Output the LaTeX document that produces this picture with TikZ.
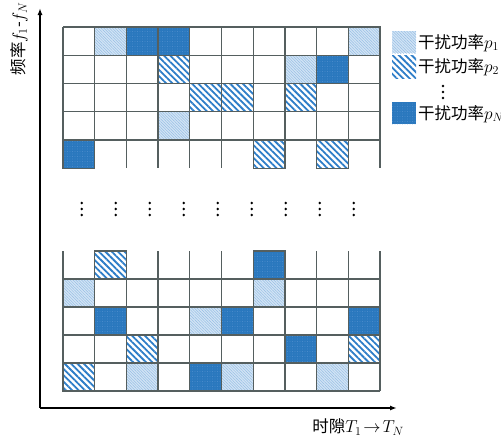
\documentclass[tikz,border=0pt]{standalone}
\usepackage{fontspec}
\newfontfamily\cjk{Noto Sans CJK SC}
\usetikzlibrary{patterns.meta,arrows.meta}
\definecolor{gridc}{RGB}{85,95,95}
\definecolor{darkb}{RGB}{42,120,190}
\definecolor{darkdot}{RGB}{90,150,210}
\definecolor{lightb}{RGB}{210,228,245}
\definecolor{lightl}{RGB}{150,190,228}
\definecolor{stripeb}{RGB}{45,125,200}
\newcommand\bigtxt{\fontsize{16.5pt}{19pt}\selectfont}
\tikzset{
  gridline/.style={draw=gridc, line width=1.3pt},
  pone/.style={fill=lightb, postaction={pattern={Lines[angle=-45,distance=2pt,line width=0.5pt]}, pattern color=lightl}},
  ptwo/.style={fill=white, postaction={pattern={Lines[angle=-45,distance=4.5pt,line width=1.8pt]}, pattern color=stripeb}},
  pn/.style={fill=darkb, postaction={pattern={Dots[distance=2.5pt,radius=0.4pt]}, pattern color=darkdot}},
  cellb/.style={draw=gridc, line width=1.3pt},
  axisline/.style={line width=1.4pt, -{Latex[length=7pt,width=5pt]}},
  lbl/.style={inner sep=0pt},
  vdot/.style={fill=black},
}
\newcommand\topcell[3]{%
  \path[#3] ({63+(#1-1)*31.7},{27+(#2-1)*28.25}) rectangle ++(31.7,28.25);
  \draw[cellb] ({63+(#1-1)*31.7},{27+(#2-1)*28.25}) rectangle ++(31.7,28.25);}
\newcommand\botcell[3]{%
  \path[#3] ({63+(#1-1)*31.7},{251+#2*28}) rectangle ++(31.7,28);
  \draw[cellb] ({63+(#1-1)*31.7},{251+#2*28}) rectangle ++(31.7,28);}
\begin{document}
\begin{tikzpicture}[x=1pt,y=-1pt]
\useasboundingbox (0,0) rectangle (501,439);
% top grid lines
\foreach \k in {0,...,4} \draw[gridline] (63,{27+\k*28.25}) -- (380,{27+\k*28.25});
\foreach \i in {0,...,10} \draw[gridline] ({63+\i*31.7},27) -- ({63+\i*31.7},168.25);
% bottom grid lines
\foreach \k in {1,...,5} \draw[gridline] (63,{251+\k*28}) -- (380,{251+\k*28});
\foreach \i in {0,...,10} \draw[gridline] ({63+\i*31.7},251) -- ({63+\i*31.7},391);
% top grid cells
\topcell{2}{1}{pone}\topcell{3}{1}{pn}\topcell{4}{1}{pn}\topcell{10}{1}{pone}
\topcell{4}{2}{ptwo}\topcell{8}{2}{pone}\topcell{9}{2}{pn}
\topcell{5}{3}{ptwo}\topcell{6}{3}{ptwo}\topcell{8}{3}{ptwo}
\topcell{4}{4}{pone}
\topcell{1}{5}{pn}\topcell{7}{5}{ptwo}\topcell{9}{5}{ptwo}
% bottom grid cells
\botcell{2}{0}{ptwo}\botcell{7}{0}{pn}
\botcell{1}{1}{pone}\botcell{7}{1}{pone}
\botcell{2}{2}{pn}\botcell{5}{2}{pone}\botcell{6}{2}{pn}\botcell{10}{2}{pn}
\botcell{3}{3}{ptwo}\botcell{8}{3}{pn}\botcell{10}{3}{ptwo}
\botcell{1}{4}{ptwo}\botcell{3}{4}{pone}\botcell{5}{4}{pn}\botcell{6}{4}{pone}\botcell{9}{4}{pone}
% vertical ellipses between grids
\foreach \j in {0,...,8} {
  \foreach \yy in {203,209,215} \fill[vdot] ({81.7+\j*34},\yy) circle (1.4pt);
}
% axes
\coordinate (O) at (40,408);
\coordinate (ytip) at (40,8);
\coordinate (xtip) at (397,408);
\draw[axisline] (O) -- (ytip);
\draw[axisline] (O) -- (xtip);
\node[lbl, rotate=90] (ylab) at (19,39) {\bigtxt\cjk 频率$f_1$-$f_N$};
\node[lbl] (xlab) at (358,427) {\bigtxt\cjk 时隙$T_1\!\rightarrow\!T_N$};
% legend
\path[pone] (392,31) rectangle (416,53);
\path[ptwo] (392,55) rectangle (416,78);
\path[pn] (392,102) rectangle (416,124);
\node[lbl, anchor=west] (l1) at (418,43) {\bigtxt\cjk 干扰功率$p_1$};
\node[lbl, anchor=west] (l2) at (418,67) {\bigtxt\cjk 干扰功率$p_2$};
\node[lbl, anchor=west] (l3) at (418,114) {\bigtxt\cjk 干扰功率$p_N$};
\foreach \yy in {86,92,98} \fill[vdot] (443,\yy) circle (1.4pt);
\end{tikzpicture}
\end{document}
